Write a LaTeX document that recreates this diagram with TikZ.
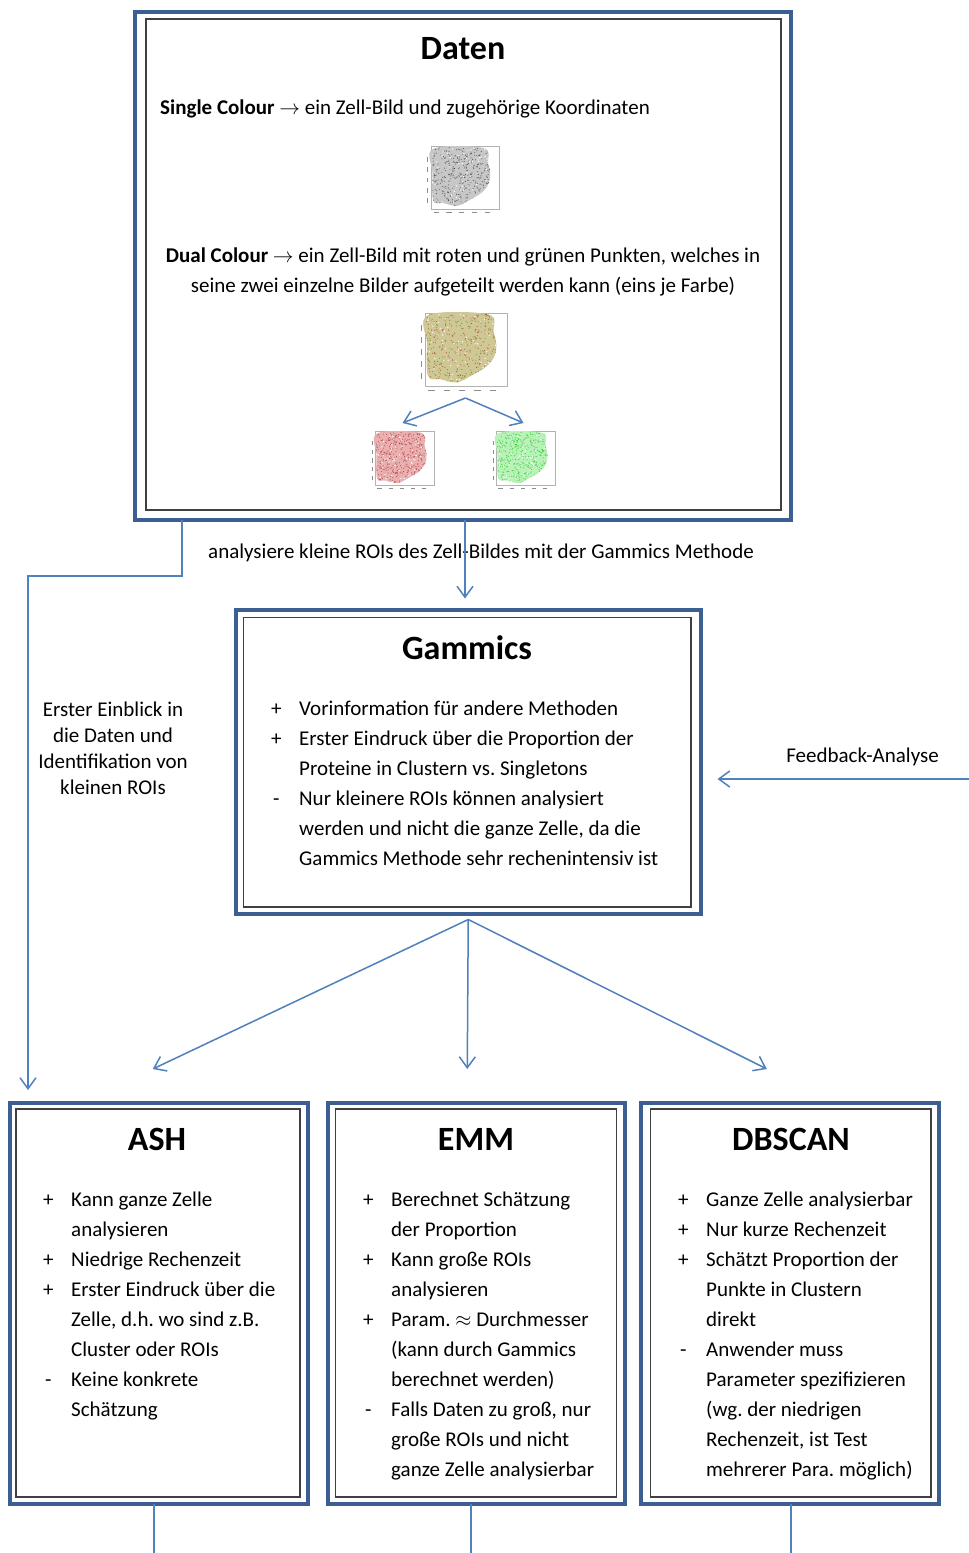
\documentclass[tikz,border=0pt]{standalone}
\usepackage{fontspec}
\setmainfont{Carlito}
\usetikzlibrary{arrows.meta,calc}
\frenchspacing
\definecolor{boxblue}{HTML}{3B5F93}
\definecolor{lineblue}{HTML}{4F81BD}
\definecolor{framegray}{HTML}{404040}
\definecolor{dualfill}{HTML}{CFC795}
\definecolor{dualg}{HTML}{7F9A2A}
\definecolor{dualr}{HTML}{B0503A}
\definecolor{redfill}{HTML}{E8B0B0}
\definecolor{reddot}{HTML}{C04848}
\definecolor{greenfill}{HTML}{B8F2B8}
\definecolor{greendot}{HTML}{3CD23C}
\newcommand\itplus{\makebox[28pt][l]{+}}
\newcommand\itminus{\makebox[28pt][l]{\hspace{2pt}-}}
\newcommand\itcont{\hspace*{28pt}}
\newcommand\cellplot[7]{%
  \node[imgnode, minimum width=#4pt, minimum height=#5pt] (#1) at (#2,#3) {};
  \begin{scope}[shift={(#1.south west)}, x=#4pt, y=#5pt]
    \draw[black!30, line width=0.5pt] (0.085,0.075) rectangle (0.99,0.99);
    \foreach \t in {0.2,0.35,0.5,0.65,0.8}{
      \draw[black!45, line width=0.5pt] (0.035,\t-0.035) -- (0.035,\t+0.035);
    }
    \foreach \t in {0.15,0.32,0.49,0.66,0.83}{
      \draw[black!45, line width=0.5pt] (\t-0.035,0.025) -- (\t+0.035,0.025);
    }
    \begin{scope}
      \clip plot[smooth cycle, tension=0.6] coordinates {(0.11,0.96) (0.78,0.97) (0.84,0.75) (0.87,0.6) (0.85,0.45) (0.76,0.32) (0.6,0.21) (0.43,0.12) (0.25,0.16) (0.11,0.2) (0.1,0.6)};
      \fill[#6] (0,0) rectangle (1,1);
      \foreach \c in {#7}{
        \foreach \i in {1,...,200}{\fill[\c] ({0.09+0.8*rnd},{0.1+0.88*rnd}) circle (0.55pt);}
      }
      \foreach \i in {1,...,70}{\fill[white] ({0.09+0.8*rnd},{0.1+0.88*rnd}) circle (0.7pt);}
    \end{scope}
  \end{scope}}
\begin{document}
\begin{tikzpicture}[x=1pt,y=-1pt,
  outerbox/.style={draw=boxblue, line width=4pt, inner sep=0pt, outer sep=0pt},
  innerbox/.style={draw=framegray, line width=1.3pt, inner sep=0pt, outer sep=0pt},
  imgnode/.style={inner sep=0pt, outer sep=0pt},
  conn/.style={draw=lineblue, line width=1.5pt, -{Straight Barb[length=11pt,width=16pt]}},
  plainline/.style={draw=lineblue, line width=1.8pt},
  bodytext/.style={font=\fontsize{21}{30}\selectfont, inner sep=0pt, align=left, anchor=base west},
  titletext/.style={font=\fontsize{34}{40}\selectfont\bfseries, inner sep=0pt, anchor=base},
  labeltext/.style={font=\fontsize{21}{26}\selectfont, inner sep=0pt, align=center, anchor=base}]
\pgfmathsetseed{3}
\useasboundingbox (0,0) rectangle (969,1553);
\fill[white] (0,0) rectangle (969,1553);

% ---------- Daten ----------
\node[outerbox, minimum width=656pt, minimum height=507.5pt] (daten) at (463,265.75) {};
\node[innerbox, minimum width=635pt, minimum height=491pt] (datenin) at (463.5,264.5) {};
\node[titletext] (datentitle) at (463,59) {Daten};
\node[bodytext] (single) at (160,114) {\textbf{Single Colour} $\rightarrow$ ein Zell-Bild und zugehörige Koordinaten};
% base anchor of a multi-line node = baseline of its last line
\node[labeltext, font=\fontsize{21}{30}\selectfont] (dual) at (463,292) {\textbf{Dual Colour} $\rightarrow$ ein Zell-Bild mit roten und grünen Punkten, welches in\\seine zwei einzelne Bilder aufgeteilt werden kann (eins je Farbe)};
\cellplot{imggray}{462.5}{180}{75}{68}{black!22}{black!70,black!55}
\cellplot{imgdual}{463}{352}{90}{80}{dualfill}{dualg,dualr}
\cellplot{imgred}{402.5}{460.5}{65}{59}{redfill}{reddot,reddot}
\cellplot{imggreen}{523.5}{460.5}{65}{59}{greenfill}{greendot,greendot}
\draw[conn] ([xshift=2.5pt,yshift=-6pt]imgdual.south) -- ([yshift=8pt]imgred.north);
\draw[conn] ([xshift=2.5pt,yshift=-6pt]imgdual.south) -- ([yshift=8pt]imggreen.north);

% ---------- Gammics ----------
\node[outerbox, minimum width=464.5pt, minimum height=304pt] (gammics) at (468.25,761.5) {};
\node[innerbox, minimum width=447.5pt, minimum height=289.5pt] (gammicsin) at (467.25,762.25) {};
\node[titletext] (gammicstitle) at (467,659) {Gammics};
\node[bodytext] (gammicslist) at (271,865) {\itplus Vorinformation für andere Methoden\\
\itplus Erster Eindruck über die Proportion der\\
\itcont Proteine in Clustern vs. Singletons\\
\itminus Nur kleinere ROIs können analysiert\\
\itcont werden und nicht die ganze Zelle, da die\\
\itcont Gammics Methode sehr rechenintensiv ist};

% ---------- ASH ----------
\node[outerbox, minimum width=298.5pt, minimum height=401pt] (ash) at (158.75,1303.5) {};
\node[innerbox, minimum width=284pt, minimum height=388pt] (ashin) at (158,1303) {};
\node[titletext] (ashtitle) at (157,1150) {ASH};
\node[bodytext] (ashlist) at (43,1416.7) {\itplus Kann ganze Zelle\\
\itcont analysieren\\
\itplus Niedrige Rechenzeit\\
\itplus Erster Eindruck über die\\
\itcont Zelle, d.h. wo sind z.B.\\
\itcont Cluster oder ROIs\\
\itminus Keine konkrete\\
\itcont Schätzung};

% ---------- EMM ----------
\node[outerbox, minimum width=297.5pt, minimum height=401pt] (emm) at (476.25,1303.5) {};
\node[innerbox, minimum width=281pt, minimum height=388pt] (emmin) at (475.8,1303) {};
\node[titletext] (emmtitle) at (476,1150) {EMM};
\node[bodytext] (emmlist) at (363,1476.7) {\itplus Berechnet Schätzung\\
\itcont der Proportion\\
\itplus Kann große ROIs\\
\itcont analysieren\\
\itplus Param. $\approx$ Durchmesser\\
\itcont (kann durch Gammics\\
\itcont berechnet werden)\\
\itminus Falls Daten zu groß, nur\\
\itcont große ROIs und nicht\\
\itcont ganze Zelle analysierbar};

% ---------- DBSCAN ----------
\node[outerbox, minimum width=298.3pt, minimum height=401pt] (dbscan) at (789.85,1303.5) {};
\node[innerbox, minimum width=280.3pt, minimum height=388pt] (dbscanin) at (790.85,1303) {};
\node[titletext] (dbscantitle) at (791,1150) {DBSCAN};
\node[bodytext] (dbscanlist) at (678,1476.7) {\itplus Ganze Zelle analysierbar\\
\itplus Nur kurze Rechenzeit\\
\itplus Schätzt Proportion der\\
\itcont Punkte in Clustern\\
\itcont direkt\\
\itminus Anwender muss\\
\itcont Parameter spezifizieren\\
\itcont (wg. der niedrigen\\
\itcont Rechenzeit, ist Test\\
\itcont mehrerer Para. möglich)};

% ---------- connectors ----------
\node[labeltext] (anlabel) at (481,558) {analysiere kleine ROIs des Zell-Bildes mit der Gammics Methode};
\draw[conn] ([xshift=2pt]daten.south) -- ([xshift=2pt,yshift=11pt]daten.south |- gammics.north);

\coordinate (lj1) at (182,576);
\coordinate (lj2) at (28,576);
\draw[conn] (daten.south -| lj1) -- (lj1) -- (lj2) -- ([yshift=13pt]lj2 |- ash.north);
\node[labeltext] (leftlabel) at (113,794) {Erster Einblick in\\die Daten und\\Identifikation von\\kleinen ROIs};

\coordinate (fb) at (969,779);
\draw[conn] (fb) -- ([xshift=17pt]fb -| gammics.east);
\node[labeltext] (fblabel) at (862.5,762) {Feedback-Analyse};

\draw[conn] ([yshift=-6pt]gammics.south) -- ([xshift=-6pt,yshift=34pt]ash.north);
\draw[conn] ([yshift=-6pt]gammics.south) -- ([xshift=-9pt,yshift=34pt]emm.north);
\draw[conn] ([yshift=-6pt]gammics.south) -- ([xshift=-23pt,yshift=34pt]dbscan.north);

\coordinate (bottomedge) at (0,1556);
\draw[plainline] ([xshift=-5pt]ash.south) -- ([xshift=-5pt]ash.south |- bottomedge);
\draw[plainline] ([xshift=-5.3pt]emm.south) -- ([xshift=-5.3pt]emm.south |- bottomedge);
\draw[plainline] ([xshift=1pt]dbscan.south) -- ([xshift=1pt]dbscan.south |- bottomedge);
\end{tikzpicture}
\end{document}
